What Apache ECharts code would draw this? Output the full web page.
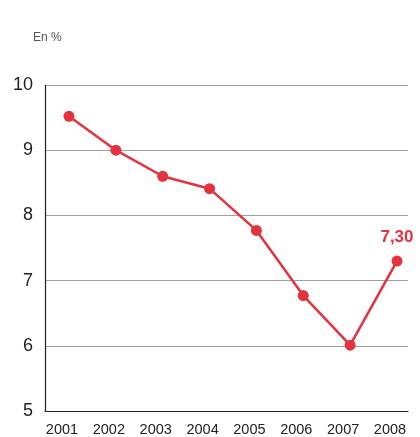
<!DOCTYPE html>
<html>
<head>
<meta charset="utf-8">
<script src="https://cdn.jsdelivr.net/npm/echarts@6/dist/echarts.min.js"></script>
<style>
  html, body { margin: 0; padding: 0; background: #fff; }
  #chart { width: 420px; height: 437px; }
</style>
</head>
<body>
<div id="chart"></div>
<script>
// données
var years = [2001, 2002, 2003, 2004, 2005, 2006, 2007, 2008];
var taux = [9.52, 9.0, 8.6, 8.41, 7.77, 6.77, 6.01, 7.3];
var yTicks = [5, 6, 7, 8, 9, 10];

var red = '#e4323f';

var points = [];
for (var i = 0; i < years.length; i++) {
  points.push({
    value: [years[i], taux[i]],
    // seul le dernier point a son étiquette
    label: { show: i === years.length - 1 }
  });
}

var chart = echarts.init(document.getElementById('chart'));

var option = {
  animation: false,
  grid: { left: 45, right: 12, top: 85, bottom: 23 },
  graphic: [{
    type: 'text',
    left: 33,
    top: 32,
    style: { text: 'En %', fill: '#555', font: '12px "Liberation Sans", Arial, sans-serif' }
  }],
  xAxis: {
    type: 'value',
    min: 2000.488,
    max: 2008.235,
    axisLine: { lineStyle: { color: '#222', width: 1.2 } },
    axisTick: { show: false },
    splitLine: { show: false },
    axisLabel: {
      customValues: years,
      margin: 11,
      padding: [0, 14, 0, 0],
      color: '#222',
      fontSize: 14.5,
      fontFamily: '"Liberation Sans", Arial, sans-serif',
      formatter: function (v) { return String(v); }
    }
  },
  yAxis: {
    type: 'value',
    min: 5,
    max: 10,
    interval: 1,
    axisLine: { show: true, lineStyle: { color: '#222', width: 1.2 } },
    axisTick: { show: false },
    splitLine: {
      show: true,
      lineStyle: { color: ['transparent', '#a0a0a0', '#a0a0a0', '#a0a0a0', '#a0a0a0', '#a0a0a0'], width: 1 }
    },
    axisLabel: {
      margin: 12,
      color: '#222',
      fontSize: 18,
      fontFamily: '"Liberation Sans", Arial, sans-serif',
      formatter: function (v) { return yTicks.indexOf(v) >= 0 ? String(v) : ''; }
    }
  },
  series: [{
    type: 'line',
    data: points,
    symbol: 'circle',
    symbolSize: 11,
    lineStyle: { color: red, width: 2.5 },
    itemStyle: { color: red },
    label: {
      position: 'top',
      distance: 10,
      color: red,
      fontSize: 17,
      fontWeight: 'bold',
      fontFamily: '"Liberation Sans", Arial, sans-serif',
      formatter: function (p) { return p.value[1].toFixed(2).replace('.', ','); }
    }
  }]
};

chart.setOption(option);
</script>
</body>
</html>
